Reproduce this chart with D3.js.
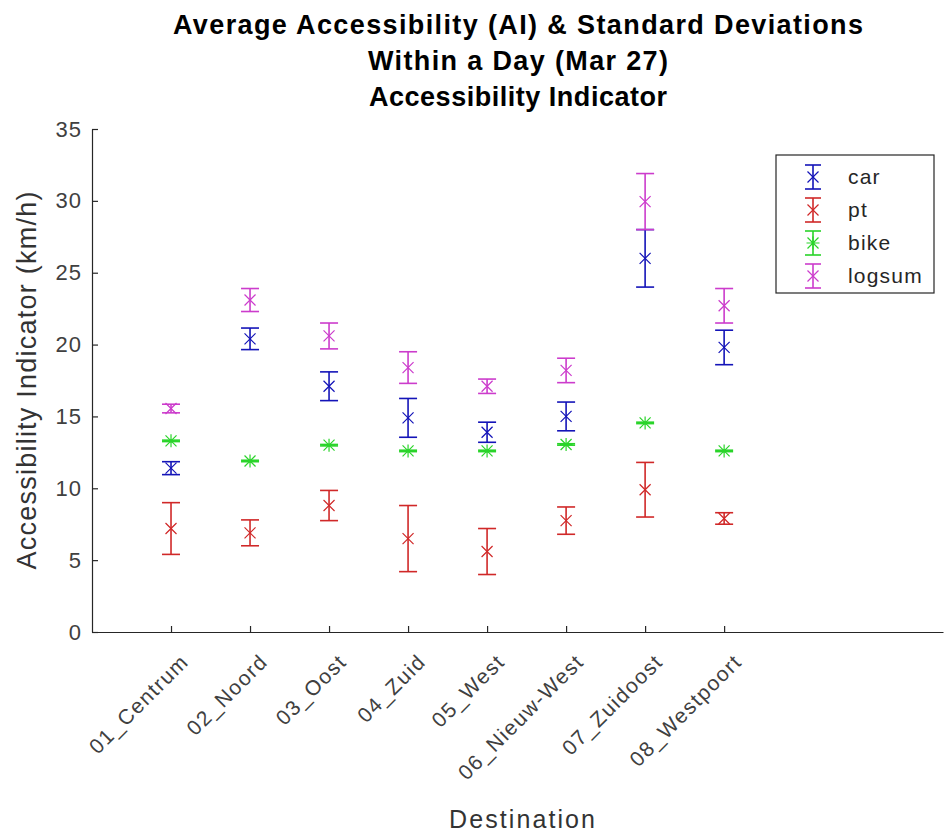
<!DOCTYPE html>
<html>
<head>
<meta charset="utf-8">
<script src="https://cdn.jsdelivr.net/npm/d3@7"></script>
<style>
  body { margin: 0; background: #fff; }
  text { font-family: "Liberation Sans", Arial, sans-serif; }
</style>
</head>
<body>
<svg id="chart"></svg>
<script>
// categorie sull'asse x
const categories = ["01_Centrum", "02_Noord", "03_Oost", "04_Zuid", "05_West", "06_Nieuw-West", "07_Zuidoost", "08_Westpoort"];

// medie e deviazioni standard per modo
const carMean = [11.4, 20.4, 17.1, 14.9, 13.9, 15.0, 26.0, 19.8];
const carStd = [0.45, 0.75, 1.0, 1.35, 0.7, 1.0, 2.0, 1.2];
const ptMean = [7.2, 6.9, 8.8, 6.5, 5.6, 7.75, 9.9, 7.9];
const ptStd = [1.8, 0.9, 1.05, 2.3, 1.6, 0.95, 1.9, 0.4];
const bikeMean = [13.3, 11.9, 13.0, 12.6, 12.6, 13.05, 14.55, 12.6];
const bikeStd = [0.05, 0.05, 0.05, 0.05, 0.05, 0.05, 0.05, 0.05];
const logsumMean = [15.55, 23.1, 20.6, 18.4, 17.1, 18.2, 29.95, 22.7];
const logsumStd = [0.3, 0.8, 0.9, 1.1, 0.5, 0.85, 1.95, 1.2];

const yTicks = [0, 5, 10, 15, 20, 25, 30, 35];
const titleLines = ["Average Accessibility (AI) & Standard Deviations", "Within a Day (Mar 27)", "Accessibility Indicator"];

const series = [
  { name: "car", mean: carMean, std: carStd, color: "#1414b8", marker: "x" },
  { name: "pt", mean: ptMean, std: ptStd, color: "#d02828", marker: "x" },
  { name: "bike", mean: bikeMean, std: bikeStd, color: "#2ad42a", marker: "*" },
  { name: "logsum", mean: logsumMean, std: logsumStd, color: "#cc3ccc", marker: "x" }
];

const width = 948, height = 836;
const svg = d3.select("#chart").attr("width", width).attr("height", height);

// scale: x continuo con categorie in 1..8
const x = d3.scaleLinear().domain([0, 10.77]).range([92, 943]);
const y = d3.scaleLinear().domain([0, 35]).range([632, 129]);

// assi con tick verso l'interno
const yAxis = svg.append("g").attr("transform", `translate(${x(0)},0)`)
  .call(d3.axisLeft(y).tickValues(yTicks).tickSizeInner(-6).tickSizeOuter(0).tickPadding(10));
const xAxis = svg.append("g").attr("transform", `translate(0,${y(0)})`)
  .call(d3.axisBottom(x).tickValues(categories.map((c, i) => i + 1)).tickSizeInner(-6).tickSizeOuter(0).tickFormat(""));

[xAxis, yAxis].forEach(a => {
  a.select(".domain").attr("stroke", "#262626").attr("stroke-width", 1.2);
  a.selectAll(".tick line").attr("stroke", "#262626").attr("stroke-width", 1.2);
});
yAxis.selectAll(".tick text").attr("font-size", 22).attr("letter-spacing", 1).attr("fill", "#404040");

// etichette ruotate
svg.append("g").selectAll("text").data(categories).join("text")
  .attr("transform", (d, i) => `translate(${x(i + 1) + 19},${y(0) + 31}) rotate(-45)`)
  .attr("text-anchor", "end")
  .attr("font-size", 21)
  .attr("letter-spacing", 1.5)
  .attr("fill", "#404040")
  .text(d => d);

// barre d'errore
const capW = 9, mk = 5.5;
series.forEach(s => {
  const g = svg.append("g").attr("stroke", s.color).attr("stroke-width", 1.6).attr("fill", "none");
  s.mean.forEach((m, i) => {
    const cx = x(i + 1), top = y(m + s.std[i]), bot = y(m - s.std[i]), cy = y(m);
    g.append("line").attr("x1", cx).attr("x2", cx).attr("y1", top).attr("y2", bot);
    g.append("line").attr("x1", cx - capW).attr("x2", cx + capW).attr("y1", top).attr("y2", top);
    g.append("line").attr("x1", cx - capW).attr("x2", cx + capW).attr("y1", bot).attr("y2", bot);
    g.append("path").attr("stroke-width", 1.2).attr("d", markerPath(s.marker, cx, cy));
  });
});

function markerPath(type, cx, cy) {
  let p = `M${cx - mk},${cy - mk}L${cx + mk},${cy + mk}M${cx - mk},${cy + mk}L${cx + mk},${cy - mk}`;
  if (type === "*") p += `M${cx - mk - 1},${cy}L${cx + mk + 1},${cy}M${cx},${cy - mk - 1}L${cx},${cy + mk + 1}`;
  return p;
}

// legenda
const lg = svg.append("g");
lg.append("rect").attr("x", 776).attr("y", 155).attr("width", 158).attr("height", 138)
  .attr("fill", "#fff").attr("stroke", "#262626").attr("stroke-width", 1.2);
series.forEach((s, i) => {
  const cy = 177 + i * 33, cx = 813;
  const g = lg.append("g").attr("stroke", s.color).attr("stroke-width", 1.6).attr("fill", "none");
  g.append("line").attr("x1", cx).attr("x2", cx).attr("y1", cy - 12).attr("y2", cy + 12);
  g.append("line").attr("x1", cx - 8).attr("x2", cx + 8).attr("y1", cy - 12).attr("y2", cy - 12);
  g.append("line").attr("x1", cx - 8).attr("x2", cx + 8).attr("y1", cy + 12).attr("y2", cy + 12);
  g.append("path").attr("stroke-width", 1.2).attr("d", markerPath(s.marker, cx, cy));
  lg.append("text").attr("x", 848).attr("y", cy).attr("dy", "0.35em")
    .attr("font-size", 21).attr("letter-spacing", 1.2).attr("fill", "#262626").text(s.name);
});

// titoli
const titleWidths = [690, 300, 298];
svg.append("g").selectAll("text").data(titleLines).join("text")
  .attr("x", 518).attr("y", (d, i) => 34 + i * 36)
  .attr("text-anchor", "middle").attr("font-weight", "bold").attr("font-size", 27)
  .attr("textLength", (d, i) => titleWidths[i]).attr("lengthAdjust", "spacing")
  .attr("fill", "#000").text(d => d);

svg.append("text").attr("x", 522).attr("y", 828).attr("text-anchor", "middle")
  .attr("font-size", 25).attr("textLength", 146).attr("lengthAdjust", "spacing")
  .attr("fill", "#333").text("Destination");

svg.append("text").attr("transform", `translate(36,${y(17.5)}) rotate(-90)`)
  .attr("text-anchor", "middle").attr("font-size", 27)
  .attr("textLength", 378).attr("lengthAdjust", "spacing").attr("fill", "#333")
  .text("Accessibility Indicator (km/h)");
</script>
</body>
</html>
